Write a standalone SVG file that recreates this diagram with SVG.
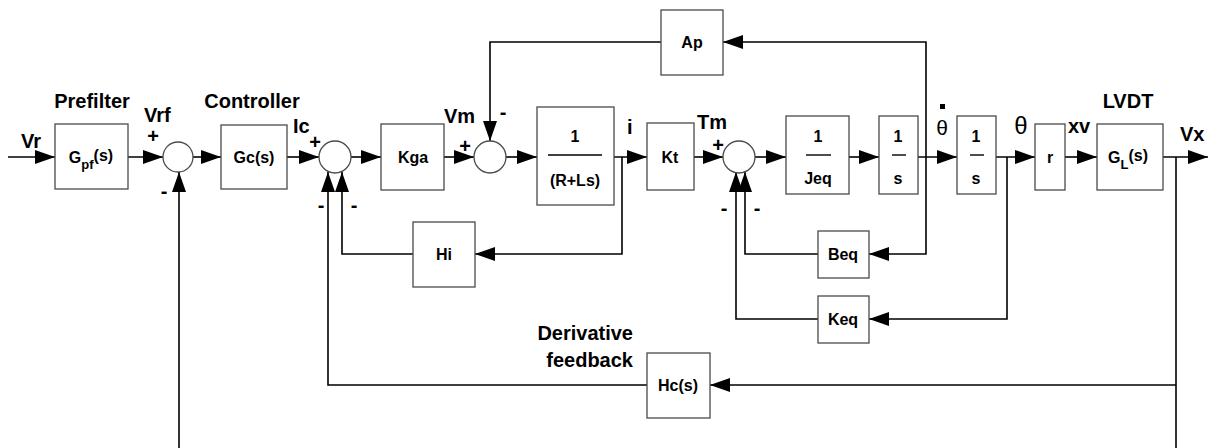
<svg xmlns="http://www.w3.org/2000/svg" width="1212" height="448" viewBox="0 0 1212 448">
<defs>
<marker id="a" viewBox="0 0 20 14" refX="20" refY="7" markerWidth="20" markerHeight="14" markerUnits="userSpaceOnUse" orient="auto">
<path d="M0,0 L20,7 L0,14 z" fill="#000"/>
</marker>
<style>
.b{fill:#fff;stroke:#4a4a4a;stroke-width:1.3}
.c{fill:#fff;stroke:#4a4a4a;stroke-width:1.3}
.w{fill:none;stroke:#000;stroke-width:1.6}
.wa{fill:none;stroke:#000;stroke-width:1.6;marker-end:url(#a)}
.t{font-family:"Liberation Sans",Arial,sans-serif;font-weight:bold;font-size:16px;fill:#000;text-anchor:middle}
.l{font-family:"Liberation Sans",Arial,sans-serif;font-weight:bold;font-size:20px;fill:#000}
.s{font-family:"Liberation Sans",Arial,sans-serif;font-weight:bold;font-size:20px;fill:#000;text-anchor:middle}
.th{font-family:"Liberation Sans",Arial,sans-serif;font-size:24px;fill:#000;text-anchor:middle}
</style>
</defs>
<rect width="1212" height="448" fill="#fff"/>
<g id="connectors">
<path class="wa" d="M8,157 H55"/>
<path class="wa" d="M128,157 H163"/>
<path class="wa" d="M193,157 H221"/>
<path class="wa" d="M287,157 H319"/>
<path class="wa" d="M351,157 H381"/>
<path class="wa" d="M444,157 H474"/>
<path class="wa" d="M506,157 H537"/>
<path class="wa" d="M614,157 H647"/>
<path class="wa" d="M622,157 V254 H475"/>
<path class="wa" d="M413,254 H342 V172"/>
<path class="wa" d="M694,157 H723"/>
<path class="wa" d="M755,157 H786"/>
<path class="wa" d="M849,157 H879"/>
<path class="wa" d="M918,157 H957"/>
<path class="wa" d="M926,157 V42 H723"/>
<path class="wa" d="M661,42 H490 V141"/>
<path class="wa" d="M926,157 V254 H869"/>
<path class="wa" d="M818,254 H745 V172"/>
<path class="wa" d="M996,157 H1035"/>
<path class="wa" d="M1007,157 V319 H869"/>
<path class="wa" d="M818,319 H736 V172"/>
<path class="wa" d="M1065,157 H1097"/>
<path class="wa" d="M1163,157 H1208"/>
<path class="w" d="M1176,157 V448"/>
<path class="wa" d="M1176,385 H710"/>
<path class="wa" d="M647,385 H328 V172"/>
<path class="wa" d="M179,448 V172"/>
</g>
<g id="gpf"><rect class="b" x="55" y="124" width="73" height="65"/><text class="t" x="91" y="163"><tspan>G</tspan><tspan font-size="13" dy="6">pf</tspan><tspan dy="-8">(s)</tspan></text></g>
<g id="sum1"><circle class="c" cx="178" cy="157" r="15"/></g>
<g id="gc"><rect class="b" x="221" y="125" width="66" height="64"/><text class="t" x="254" y="163">Gc(s)</text></g>
<g id="sum2"><circle class="c" cx="335" cy="157" r="16"/></g>
<g id="kga"><rect class="b" x="381" y="124" width="63" height="66"/><text class="t" x="413" y="163">Kga</text></g>
<g id="sum3"><circle class="c" cx="490" cy="157" r="16"/></g>
<g id="rls"><rect class="b" x="537" y="107" width="77" height="98"/><text class="t" x="575" y="142">1</text><line x1="548" y1="155" x2="602" y2="155" stroke="#000" stroke-width="1.4"/><text class="t" x="575" y="186">(R+Ls)</text></g>
<g id="kt"><rect class="b" x="647" y="123" width="47" height="67"/><text class="t" x="670" y="163">Kt</text></g>
<g id="sum4"><circle class="c" cx="739" cy="157" r="16"/></g>
<g id="jeq"><rect class="b" x="786" y="116" width="63" height="78"/><text class="t" x="818" y="142">1</text><line x1="806" y1="155" x2="831" y2="155" stroke="#000" stroke-width="1.4"/><text class="t" x="818" y="184">Jeq</text></g>
<g id="int1"><rect class="b" x="879" y="116" width="39" height="78"/><text class="t" x="898" y="142">1</text><line x1="892" y1="155" x2="906" y2="155" stroke="#000" stroke-width="1.4"/><text class="t" x="898" y="184">s</text></g>
<g id="int2"><rect class="b" x="957" y="116" width="39" height="78"/><text class="t" x="976" y="142">1</text><line x1="970" y1="155" x2="984" y2="155" stroke="#000" stroke-width="1.4"/><text class="t" x="976" y="184">s</text></g>
<g id="r"><rect class="b" x="1035" y="124" width="30" height="66"/><text class="t" x="1050" y="163">r</text></g>
<g id="gl"><rect class="b" x="1097" y="124" width="66" height="66"/><text class="t" x="1128" y="163"><tspan>G</tspan><tspan font-size="13" dy="6">L</tspan><tspan dy="-8">(s)</tspan></text></g>
<g id="ap"><rect class="b" x="661" y="10" width="62" height="65"/><text class="t" x="692" y="48">Ap</text></g>
<g id="hi"><rect class="b" x="413" y="222" width="62" height="65"/><text class="t" x="444" y="260">Hi</text></g>
<g id="beq"><rect class="b" x="818" y="231" width="51" height="47"/><text class="t" x="843" y="260">Beq</text></g>
<g id="keq"><rect class="b" x="818" y="296" width="51" height="47"/><text class="t" x="843" y="325">Keq</text></g>
<g id="hc"><rect class="b" x="647" y="353" width="63" height="65"/><text class="t" x="678" y="391">Hc(s)</text></g>
<g id="labels">
<text class="l" x="21" y="148">Vr</text>
<text class="l" x="92" y="108" text-anchor="middle">Prefilter</text>
<text class="l" x="144" y="122">Vrf</text>
<text class="s" x="153" y="143">+</text>
<text class="s" x="164" y="198">-</text>
<text class="l" x="252" y="108" text-anchor="middle">Controller</text>
<text class="l" x="293" y="133">Ic</text>
<text class="s" x="315" y="149">+</text>
<text class="s" x="321" y="212">-</text>
<text class="s" x="354" y="212">-</text>
<text class="l" x="444" y="123">Vm</text>
<text class="s" x="465" y="153">+</text>
<text class="s" x="503" y="119">-</text>
<text class="l" x="627" y="134">i</text>
<text class="l" x="697" y="129">Tm</text>
<text class="s" x="718" y="152">+</text>
<text class="s" x="724" y="215">-</text>
<text class="s" x="757" y="215">-</text>
<text class="th" x="942" y="135" style="font-size:21px">θ</text>
<rect x="940" y="104" width="5" height="5" fill="#000"/>
<text class="th" x="1021" y="134">θ</text>
<text class="l" x="1068" y="133">xv</text>
<text class="l" x="1128" y="108" text-anchor="middle">LVDT</text>
<text class="l" x="1180" y="141">Vx</text>
<text class="l" x="633" y="340" text-anchor="end">Derivative</text>
<text class="l" x="633" y="367" text-anchor="end">feedback</text>
</g>
</svg>
